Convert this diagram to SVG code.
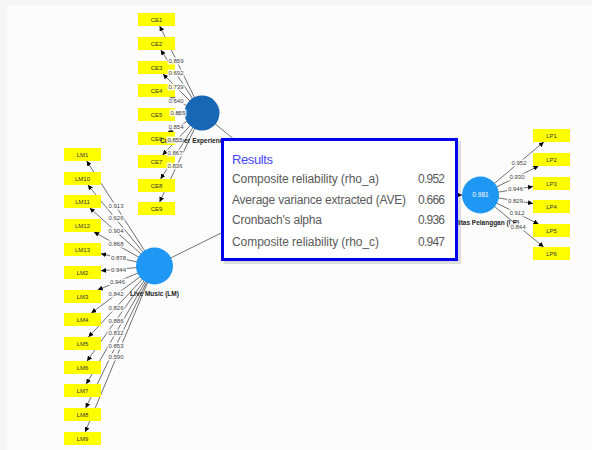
<svg xmlns="http://www.w3.org/2000/svg" width="592" height="450" viewBox="0 0 592 450">
<style>
.ln{stroke:#707070;stroke-width:1;fill:none}
.ind rect{fill:#ffff00}
.ind text{font-family:"Liberation Sans",Arial,sans-serif;font-size:6px;fill:#333;text-anchor:middle}
.ld rect{fill:#fff;fill-opacity:0.85}
.ld text{font-family:"Liberation Sans",Arial,sans-serif;font-size:6px;fill:#444;text-anchor:middle}
.nl{font-family:"Liberation Sans",Arial,sans-serif;font-size:6.5px;font-weight:bold;fill:#222;text-anchor:middle}
.rt{font-family:"Liberation Sans",Arial,sans-serif;font-size:12px;fill:#5a5a5a}
.rv{font-family:"Liberation Sans",Arial,sans-serif;font-size:12px;fill:#5a5a5a;text-anchor:end}
</style>
<defs>
<marker id="arr" viewBox="0 0 10 10" refX="10" refY="5" markerWidth="5" markerHeight="5" markerUnits="userSpaceOnUse" orient="auto">
<path d="M0,0 L10,5 L0,10 z" fill="#000"/>
</marker>
</defs>
<rect width="592" height="450" fill="#f6f6f6"/>
<rect x="7" y="5" width="585" height="445" fill="#fcfcfc"/>

<g id="connectors">
<g marker-end="url(#arr)" class="ln">
<line x1="202" y1="113" x2="159.7" y2="26"/>
<line x1="202" y1="113" x2="160.8" y2="50"/>
<line x1="202" y1="113" x2="163" y2="74"/>
<line x1="202" y1="113" x2="169.6" y2="97"/>
<line x1="202" y1="113" x2="175" y2="113.9"/>
<line x1="202" y1="113" x2="168.1" y2="132"/>
<line x1="202" y1="113" x2="162.6" y2="155"/>
<line x1="202" y1="113" x2="160.6" y2="179"/>
<line x1="202" y1="113" x2="159.6" y2="202"/>
<line x1="154.5" y1="266" x2="86.7" y2="161"/>
<line x1="154.5" y1="266" x2="87.9" y2="185"/>
<line x1="154.5" y1="266" x2="89.8" y2="208"/>
<line x1="154.5" y1="266" x2="94.1" y2="232"/>
<line x1="154.5" y1="266" x2="101" y2="253.7"/>
<line x1="154.5" y1="266" x2="101" y2="270.8"/>
<line x1="154.5" y1="266" x2="97.8" y2="290"/>
<line x1="154.5" y1="266" x2="91.3" y2="313"/>
<line x1="154.5" y1="266" x2="88.5" y2="337"/>
<line x1="154.5" y1="266" x2="87.1" y2="361"/>
<line x1="154.5" y1="266" x2="86.3" y2="384"/>
<line x1="154.5" y1="266" x2="85.7" y2="408"/>
<line x1="154.5" y1="266" x2="85.2" y2="432"/>
<line x1="480.5" y1="195" x2="543.8" y2="142"/>
<line x1="480.5" y1="195" x2="538.5" y2="166"/>
<line x1="480.5" y1="195" x2="533" y2="186.5"/>
<line x1="480.5" y1="195" x2="533" y2="203.5"/>
<line x1="480.5" y1="195" x2="538.5" y2="224"/>
<line x1="480.5" y1="195" x2="543.6" y2="247"/>
<line x1="300" y1="194" x2="462" y2="195"/>
</g>
<line class="ln" x1="202" y1="113" x2="300" y2="194" stroke="#444"/>
<line class="ln" x1="154.5" y1="266" x2="300" y2="194" stroke="#444"/>
</g>

<g id="indicators" class="ind">
<g id="CE1"><rect x="138" y="13" width="37" height="13"/><text x="156.5" y="21.5">CE1</text></g>
<g id="CE2"><rect x="138" y="37" width="37" height="13"/><text x="156.5" y="45.5">CE2</text></g>
<g id="CE3"><rect x="138" y="61" width="37" height="13"/><text x="156.5" y="69.5">CE3</text></g>
<g id="CE4"><rect x="138" y="84" width="37" height="13"/><text x="156.5" y="92.5">CE4</text></g>
<g id="CE5"><rect x="138" y="108" width="37" height="13"/><text x="156.5" y="116.5">CE5</text></g>
<g id="CE6"><rect x="138" y="132" width="37" height="13"/><text x="156.5" y="140.5">CE6</text></g>
<g id="CE7"><rect x="138" y="155" width="37" height="13"/><text x="156.5" y="163.5">CE7</text></g>
<g id="CE8"><rect x="138" y="179" width="37" height="13"/><text x="156.5" y="187.5">CE8</text></g>
<g id="CE9"><rect x="138" y="202" width="37" height="13"/><text x="156.5" y="210.5">CE9</text></g>
<g id="LM1"><rect x="64" y="148" width="37" height="13"/><text x="82.5" y="156.5">LM1</text></g>
<g id="LM10"><rect x="64" y="172" width="37" height="13"/><text x="82.5" y="180.5">LM10</text></g>
<g id="LM11"><rect x="64" y="195" width="37" height="13"/><text x="82.5" y="203.5">LM11</text></g>
<g id="LM12"><rect x="64" y="219" width="37" height="13"/><text x="82.5" y="227.5">LM12</text></g>
<g id="LM13"><rect x="64" y="243" width="37" height="13"/><text x="82.5" y="251.5">LM13</text></g>
<g id="LM2"><rect x="64" y="266" width="37" height="13"/><text x="82.5" y="274.5">LM2</text></g>
<g id="LM3"><rect x="64" y="290" width="37" height="13"/><text x="82.5" y="298.5">LM3</text></g>
<g id="LM4"><rect x="64" y="313" width="37" height="13"/><text x="82.5" y="321.5">LM4</text></g>
<g id="LM5"><rect x="64" y="337" width="37" height="13"/><text x="82.5" y="345.5">LM5</text></g>
<g id="LM6"><rect x="64" y="361" width="37" height="13"/><text x="82.5" y="369.5">LM6</text></g>
<g id="LM7"><rect x="64" y="384" width="37" height="13"/><text x="82.5" y="392.5">LM7</text></g>
<g id="LM8"><rect x="64" y="408" width="37" height="13"/><text x="82.5" y="416.5">LM8</text></g>
<g id="LM9"><rect x="64" y="432" width="37" height="13"/><text x="82.5" y="440.5">LM9</text></g>
<g id="LP1"><rect x="533" y="129" width="37" height="13"/><text x="551.5" y="137.5">LP1</text></g>
<g id="LP2"><rect x="533" y="153" width="37" height="13"/><text x="551.5" y="161.5">LP2</text></g>
<g id="LP3"><rect x="533" y="177" width="37" height="13"/><text x="551.5" y="185.5">LP3</text></g>
<g id="LP4"><rect x="533" y="200" width="37" height="13"/><text x="551.5" y="208.5">LP4</text></g>
<g id="LP5"><rect x="533" y="224" width="37" height="13"/><text x="551.5" y="232.5">LP5</text></g>
<g id="LP6"><rect x="533" y="247" width="37" height="13"/><text x="551.5" y="255.5">LP6</text></g>
</g>

<g id="CE">
<circle cx="202" cy="113" r="17.5" fill="#1767b5"/>
<text class="nl" x="201" y="143">Customer Experience (CE)</text>
</g>
<g id="LM">
<circle cx="154.5" cy="266" r="18.5" fill="#1f97f4"/>
<text class="nl" x="154.5" y="296">Live Music (LM)</text>
</g>
<g id="LP">
<circle cx="480.5" cy="195" r="18.5" fill="#1f97f4"/>
<text x="480.5" y="197.3" font-family="Liberation Sans, Arial, sans-serif" font-size="6.5" fill="#fff" text-anchor="middle">0.981</text>
<text class="nl" x="480.5" y="225">Loyalitas Pelanggan (LP)</text>
</g>

<g id="loadings" class="ld">
<rect x="167.5" y="57.5" width="17" height="7"/><text x="176" y="63">0.859</text>
<rect x="167.5" y="69.5" width="17" height="7"/><text x="176" y="75">0.692</text>
<rect x="167.5" y="83.5" width="17" height="7"/><text x="176" y="89">0.739</text>
<rect x="167.5" y="97.5" width="17" height="7"/><text x="176" y="103">0.640</text>
<rect x="169.5" y="109.5" width="17" height="7"/><text x="178" y="115">0.855</text>
<rect x="167.5" y="123.5" width="17" height="7"/><text x="176" y="129">0.854</text>
<rect x="166.5" y="136.5" width="17" height="7"/><text x="175" y="142">0.855</text>
<rect x="166.5" y="149.5" width="17" height="7"/><text x="175" y="155">0.867</text>
<rect x="166.5" y="162.5" width="17" height="7"/><text x="175" y="168">0.836</text>
<rect x="107.5" y="202.5" width="17" height="7"/><text x="116" y="208">0.913</text>
<rect x="107.5" y="214.5" width="17" height="7"/><text x="116" y="220">0.626</text>
<rect x="107.5" y="227.5" width="17" height="7"/><text x="116" y="233">0.904</text>
<rect x="107.5" y="240.5" width="17" height="7"/><text x="116" y="246">0.868</text>
<rect x="110" y="254.5" width="17" height="7"/><text x="118.5" y="260">0.878</text>
<rect x="110" y="266.5" width="17" height="7"/><text x="118.5" y="272">0.944</text>
<rect x="109" y="278.5" width="17" height="7"/><text x="117.5" y="284">0.946</text>
<rect x="107.5" y="290.5" width="17" height="7"/><text x="116" y="296">0.842</text>
<rect x="107.5" y="304.5" width="17" height="7"/><text x="116" y="310">0.826</text>
<rect x="107.5" y="317.5" width="17" height="7"/><text x="116" y="323">0.886</text>
<rect x="107.5" y="329.5" width="17" height="7"/><text x="116" y="335">0.832</text>
<rect x="107.5" y="342.5" width="17" height="7"/><text x="116" y="348">0.853</text>
<rect x="107.5" y="353.5" width="17" height="7"/><text x="116" y="359">0.590</text>
<rect x="510.5" y="159.5" width="17" height="7"/><text x="519" y="165">0.952</text>
<rect x="508.5" y="173.5" width="17" height="7"/><text x="517" y="179">0.930</text>
<rect x="507" y="185.5" width="17" height="7"/><text x="515.5" y="191">0.946</text>
<rect x="507" y="197.5" width="17" height="7"/><text x="515.5" y="203">0.829</text>
<rect x="508.5" y="209.5" width="17" height="7"/><text x="517" y="215">0.912</text>
<rect x="509.5" y="223.5" width="17" height="7"/><text x="518" y="229">0.844</text>
</g>

<g id="results">
<rect x="224" y="141" width="237" height="123" fill="#000" opacity="0.12"/>
<rect x="222.5" y="139.5" width="234" height="120" fill="#fff" stroke="#0000ee" stroke-width="3"/>
<text x="232" y="164" font-family="Liberation Sans, Arial, sans-serif" font-size="13" fill="#4848ff" textLength="41">Results</text>
<text class="rt" x="232" y="182.5" textLength="147">Composite reliability (rho_a)</text>
<text class="rt" x="232" y="204" textLength="174">Average variance extracted (AVE)</text>
<text class="rt" x="232" y="224.3" textLength="90">Cronbach's alpha</text>
<text class="rt" x="232" y="246" textLength="147">Composite reliability (rho_c)</text>
<text class="rv" x="445" y="182.5" textLength="27">0.952</text>
<text class="rv" x="445" y="204" textLength="27">0.666</text>
<text class="rv" x="445" y="224.3" textLength="27">0.936</text>
<text class="rv" x="445" y="246" textLength="27">0.947</text>
</g>
</svg>
